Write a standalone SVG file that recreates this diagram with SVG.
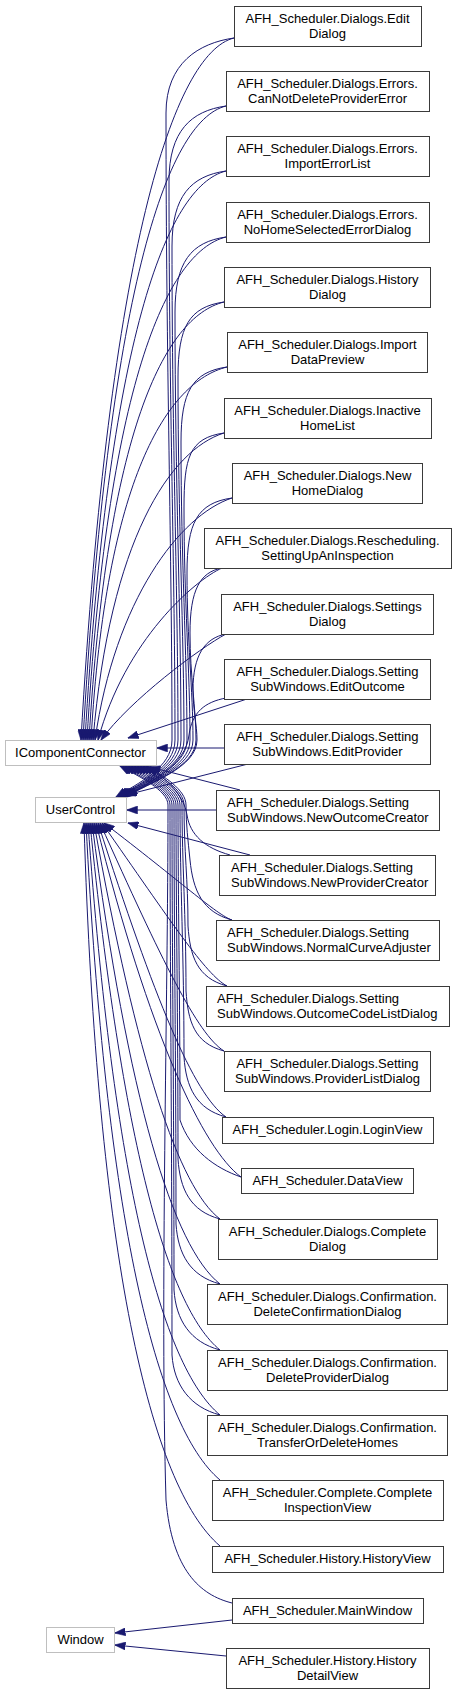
<svg xmlns="http://www.w3.org/2000/svg" width="456" height="1695" viewBox="0 0 456 1695">
<style>
.n rect{fill:#fff;stroke:#3a3a3a;stroke-width:1}
.x rect{fill:#fff;stroke:#bfbfbf;stroke-width:1}
text{font-family:"Liberation Sans",Arial,sans-serif;font-size:13px;fill:#000;text-anchor:middle}
text.l{text-anchor:start}
#edges path{fill:none;stroke:#191970;stroke-width:1;marker-end:url(#ah)}
</style>
<defs>
<marker id="ah" viewBox="0 0 11 8" markerWidth="11" markerHeight="8" refX="10.5" refY="4" markerUnits="userSpaceOnUse" orient="auto">
<path d="M0,0 L11,4 L0,8 z" fill="#191970" stroke="#191970" stroke-width="0.5"/>
</marker>
</defs>
<rect width="456" height="1695" fill="#fff"/>
<g id="edges">
<!-- upper nodes to IComponentConnector -->
<path d="M234,38 C174,53 109,249 81,740"/>
<path d="M226,106 C166,121 108,296 83,740"/>
<path d="M226,171 C166,186 108,342 85,740"/>
<path d="M226,237 C166,252 107,388 87,740"/>
<path d="M224,302 C164,317 107,433 89,740"/>
<path d="M227,367 C167,382 106,479 91,740"/>
<path d="M224,433 C170,450 110,540 93,740"/>
<path d="M232,498 C180,515 115,600 95,740"/>
<path d="M222,568 C195,580 125,640 98,740"/>
<path d="M226,634 C200,648 130,700 101,740"/>
<!-- upper nodes to UserControl -->
<path d="M234,38 C199,43 166,63 166,113 C166,364 172,552 172,740 C172,768 138,783 116,797"/>
<path d="M226,106 C191,111 169,131 169,181 C169,405 175,572 175,740 C175,768 140,783 118,797"/>
<path d="M226,171 C191,176 172,196 172,246 C172,444 178,592 178,740 C178,768 141,783 119,797"/>
<path d="M226,237 C191,242 175,262 175,312 C175,483 181,612 181,740 C181,768 142,783 120,797"/>
<path d="M224,302 C189,307 178,327 178,377 C178,522 184,631 184,740 C184,768 143,783 121,797"/>
<path d="M227,367 C192,372 181,392 181,442 C181,561 187,651 187,740 C187,768 144,783 122,797"/>
<path d="M224,433 C189,438 184,458 184,508 C184,601 190,670 190,740 C190,768 145,783 123,797"/>
<path d="M232,498 C197,503 187,523 187,573 C187,640 193,690 193,740 C193,768 146,783 124,797"/>
<path d="M222,568 C200,572 190,590 190,633 C190,676 196,708 196,740 C196,768 147,783 125,797"/>
<path d="M226,634 C205,638 193,655 193,690 C193,710 197,725 197,740 C197,768 148,783 126,797"/>
<!-- EditOutcome, EditProvider, NewOutcomeCreator, NewProviderCreator -->
<path d="M247,699 L128,738"/>
<path d="M226,698 C205,702 192,712 189,735 C186,765 150,782 127,796"/>
<path d="M224,748 L157,748"/>
<path d="M248,764 L126,795"/>
<path d="M216,810 L127,810"/>
<path d="M240,790 L150,767"/>
<path d="M250,855 L128,823"/>
<path d="M230,855 C205,848 190,835 187,815 C184,795 166,778 148,767"/>
<!-- lower nodes to UserControl -->
<path d="M232,920 C217,915 180,881 104,823"/>
<path d="M227,986 C206,975 170.5,921 102,823"/>
<path d="M224,1051 C197.5,1034.5 161.6,960 100,823"/>
<path d="M226,1117 C193.7,1094.7 154.4,999 98,823"/>
<path d="M241,1177 C203.4,1149.4 149,1035 96,823"/>
<path d="M220,1219 C178.7,1187.7 136.8,1060.6 94,823"/>
<path d="M220,1284 C173,1247 128,1099.6 92,823"/>
<path d="M220,1350 C167,1307 121.6,1139 90,823"/>
<path d="M220,1415 C161.5,1366.5 112.9,1178 88,823"/>
<path d="M220,1480 C156,1426 105.7,1217 86,823"/>
<path d="M220,1546 C150,1486 97,1257 84,823"/>
<!-- lower nodes to IComponentConnector -->
<path d="M232,920 C202,912 193,890 190,860 C188,840 186,825 186,805 C186,790 164,776 146,766"/>
<path d="M227,986 C197,978 190,956 188,926 C188,878 184,853 184,805 C184,790 161,776 143,766"/>
<path d="M224,1051 C194,1043 188,1021 186,991 C186,917 182,861 182,805 C182,790 158,776 140,766"/>
<path d="M226,1117 C196,1109 186,1087 184,1057 C184,956 180,881 180,805 C180,790 155,776 137,766"/>
<path d="M241,1177 C215,1168 190,1150 180,1120 C180,994 178,900 178,805 C178,790 152,776 134,766"/>
<path d="M220,1219 C190,1211 180,1189 178,1159 C178,1017 176,911 176,805 C176,790 149,776 131,766"/>
<path d="M220,1284 C190,1276 178,1254 176,1224 C176,1056 174,931 174,805 C174,790 146,776 128,766"/>
<path d="M220,1350 C190,1342 176,1320 174,1290 C174,1096 172,950 172,805 C172,790 143,776 125,766"/>
<path d="M220,1415 C190,1407 174,1385 172,1355 C172,1135 170,970 170,805 C170,790 140,776 122,766"/>
<path d="M232,1603 C200,1595 172,1570 166,1500 C160,1300 168,1000 168,805 C168,790 138,776 120,766"/>
<!-- Window -->
<path d="M232,1620 L115,1633"/>
<path d="M226,1656 L115,1645"/>
</g>
<g id="IComponentConnector" class="x"><rect x="5.5" y="740.5" width="151" height="25"/><text x="80.5" y="757">IComponentConnector</text></g>
<g id="UserControl" class="x"><rect x="35.5" y="797.5" width="91" height="25"/><text x="80.5" y="814">UserControl</text></g>
<g id="Window" class="x"><rect x="46.5" y="1627.5" width="68" height="25"/><text x="80.5" y="1644">Window</text></g>
<g id="EditDialog" class="n"><rect x="234.5" y="6.5" width="187" height="40"/><text x="327.5" y="22.5">AFH_Scheduler.Dialogs.Edit</text><text x="327.5" y="37.5">Dialog</text></g>
<g id="CanNotDeleteProviderError" class="n"><rect x="226.5" y="71.5" width="203" height="40"/><text x="327.5" y="87.5">AFH_Scheduler.Dialogs.Errors.</text><text x="327.5" y="102.5">CanNotDeleteProviderError</text></g>
<g id="ImportErrorList" class="n"><rect x="226.5" y="136.5" width="203" height="40"/><text x="327.5" y="152.5">AFH_Scheduler.Dialogs.Errors.</text><text x="327.5" y="167.5">ImportErrorList</text></g>
<g id="NoHomeSelectedErrorDialog" class="n"><rect x="226.5" y="202.5" width="203" height="40"/><text x="327.5" y="218.5">AFH_Scheduler.Dialogs.Errors.</text><text x="327.5" y="233.5">NoHomeSelectedErrorDialog</text></g>
<g id="HistoryDialog" class="n"><rect x="224.5" y="267.5" width="206" height="40"/><text x="327.5" y="283.5">AFH_Scheduler.Dialogs.History</text><text x="327.5" y="298.5">Dialog</text></g>
<g id="ImportDataPreview" class="n"><rect x="227.5" y="332.5" width="200" height="40"/><text x="327.5" y="348.5">AFH_Scheduler.Dialogs.Import</text><text x="327.5" y="363.5">DataPreview</text></g>
<g id="InactiveHomeList" class="n"><rect x="224.5" y="398.5" width="207" height="40"/><text x="327.5" y="414.5">AFH_Scheduler.Dialogs.Inactive</text><text x="327.5" y="429.5">HomeList</text></g>
<g id="NewHomeDialog" class="n"><rect x="232.5" y="463.5" width="190" height="40"/><text x="327.5" y="479.5">AFH_Scheduler.Dialogs.New</text><text x="327.5" y="494.5">HomeDialog</text></g>
<g id="SettingUpAnInspection" class="n"><rect x="204.5" y="528.5" width="247" height="40"/><text x="327.5" y="544.5">AFH_Scheduler.Dialogs.Rescheduling.</text><text x="327.5" y="559.5">SettingUpAnInspection</text></g>
<g id="SettingsDialog" class="n"><rect x="221.5" y="594.5" width="212" height="40"/><text x="327.5" y="610.5">AFH_Scheduler.Dialogs.Settings</text><text x="327.5" y="625.5">Dialog</text></g>
<g id="EditOutcome" class="n"><rect x="224.5" y="659.5" width="206" height="40"/><text x="327.5" y="675.5">AFH_Scheduler.Dialogs.Setting</text><text x="327.5" y="690.5">SubWindows.EditOutcome</text></g>
<g id="EditProvider" class="n"><rect x="224.5" y="724.5" width="206" height="40"/><text x="327.5" y="740.5">AFH_Scheduler.Dialogs.Setting</text><text x="327.5" y="755.5">SubWindows.EditProvider</text></g>
<g id="NewOutcomeCreator" class="n"><rect x="216.5" y="790.5" width="223" height="40"/><text class="l" x="227" y="806.5">AFH_Scheduler.Dialogs.Setting</text><text class="l" x="227" y="821.5">SubWindows.NewOutcomeCreator</text></g>
<g id="NewProviderCreator" class="n"><rect x="219.5" y="855.5" width="216" height="40"/><text class="l" x="231" y="871.5">AFH_Scheduler.Dialogs.Setting</text><text class="l" x="231" y="886.5">SubWindows.NewProviderCreator</text></g>
<g id="NormalCurveAdjuster" class="n"><rect x="216.5" y="920.5" width="223" height="40"/><text class="l" x="227" y="936.5">AFH_Scheduler.Dialogs.Setting</text><text class="l" x="227" y="951.5">SubWindows.NormalCurveAdjuster</text></g>
<g id="OutcomeCodeListDialog" class="n"><rect x="206.5" y="986.5" width="243" height="40"/><text class="l" x="217" y="1002.5">AFH_Scheduler.Dialogs.Setting</text><text class="l" x="217" y="1017.5">SubWindows.OutcomeCodeListDialog</text></g>
<g id="ProviderListDialog" class="n"><rect x="224.5" y="1051.5" width="206" height="40"/><text x="327.5" y="1067.5">AFH_Scheduler.Dialogs.Setting</text><text x="327.5" y="1082.5">SubWindows.ProviderListDialog</text></g>
<g id="LoginView" class="n"><rect x="222.5" y="1117.5" width="211" height="26"/><text x="327.5" y="1134">AFH_Scheduler.Login.LoginView</text></g>
<g id="DataView" class="n"><rect x="241.5" y="1168.5" width="172" height="25"/><text x="327.5" y="1185">AFH_Scheduler.DataView</text></g>
<g id="CompleteDialog" class="n"><rect x="218.5" y="1219.5" width="219" height="40"/><text x="327.5" y="1235.5">AFH_Scheduler.Dialogs.Complete</text><text x="327.5" y="1250.5">Dialog</text></g>
<g id="DeleteConfirmationDialog" class="n"><rect x="207.5" y="1284.5" width="240" height="40"/><text x="327.5" y="1300.5">AFH_Scheduler.Dialogs.Confirmation.</text><text x="327.5" y="1315.5">DeleteConfirmationDialog</text></g>
<g id="DeleteProviderDialog" class="n"><rect x="207.5" y="1350.5" width="240" height="40"/><text x="327.5" y="1366.5">AFH_Scheduler.Dialogs.Confirmation.</text><text x="327.5" y="1381.5">DeleteProviderDialog</text></g>
<g id="TransferOrDeleteHomes" class="n"><rect x="207.5" y="1415.5" width="240" height="40"/><text x="327.5" y="1431.5">AFH_Scheduler.Dialogs.Confirmation.</text><text x="327.5" y="1446.5">TransferOrDeleteHomes</text></g>
<g id="CompleteInspectionView" class="n"><rect x="212.5" y="1480.5" width="231" height="40"/><text x="327.5" y="1496.5">AFH_Scheduler.Complete.Complete</text><text x="327.5" y="1511.5">InspectionView</text></g>
<g id="HistoryView" class="n"><rect x="212.5" y="1546.5" width="231" height="26"/><text x="327.5" y="1563">AFH_Scheduler.History.HistoryView</text></g>
<g id="MainWindow" class="n"><rect x="232.5" y="1598.5" width="191" height="25"/><text x="327.5" y="1615">AFH_Scheduler.MainWindow</text></g>
<g id="HistoryDetailView" class="n"><rect x="226.5" y="1648.5" width="203" height="40"/><text x="327.5" y="1664.5">AFH_Scheduler.History.History</text><text x="327.5" y="1679.5">DetailView</text></g>
</svg>
